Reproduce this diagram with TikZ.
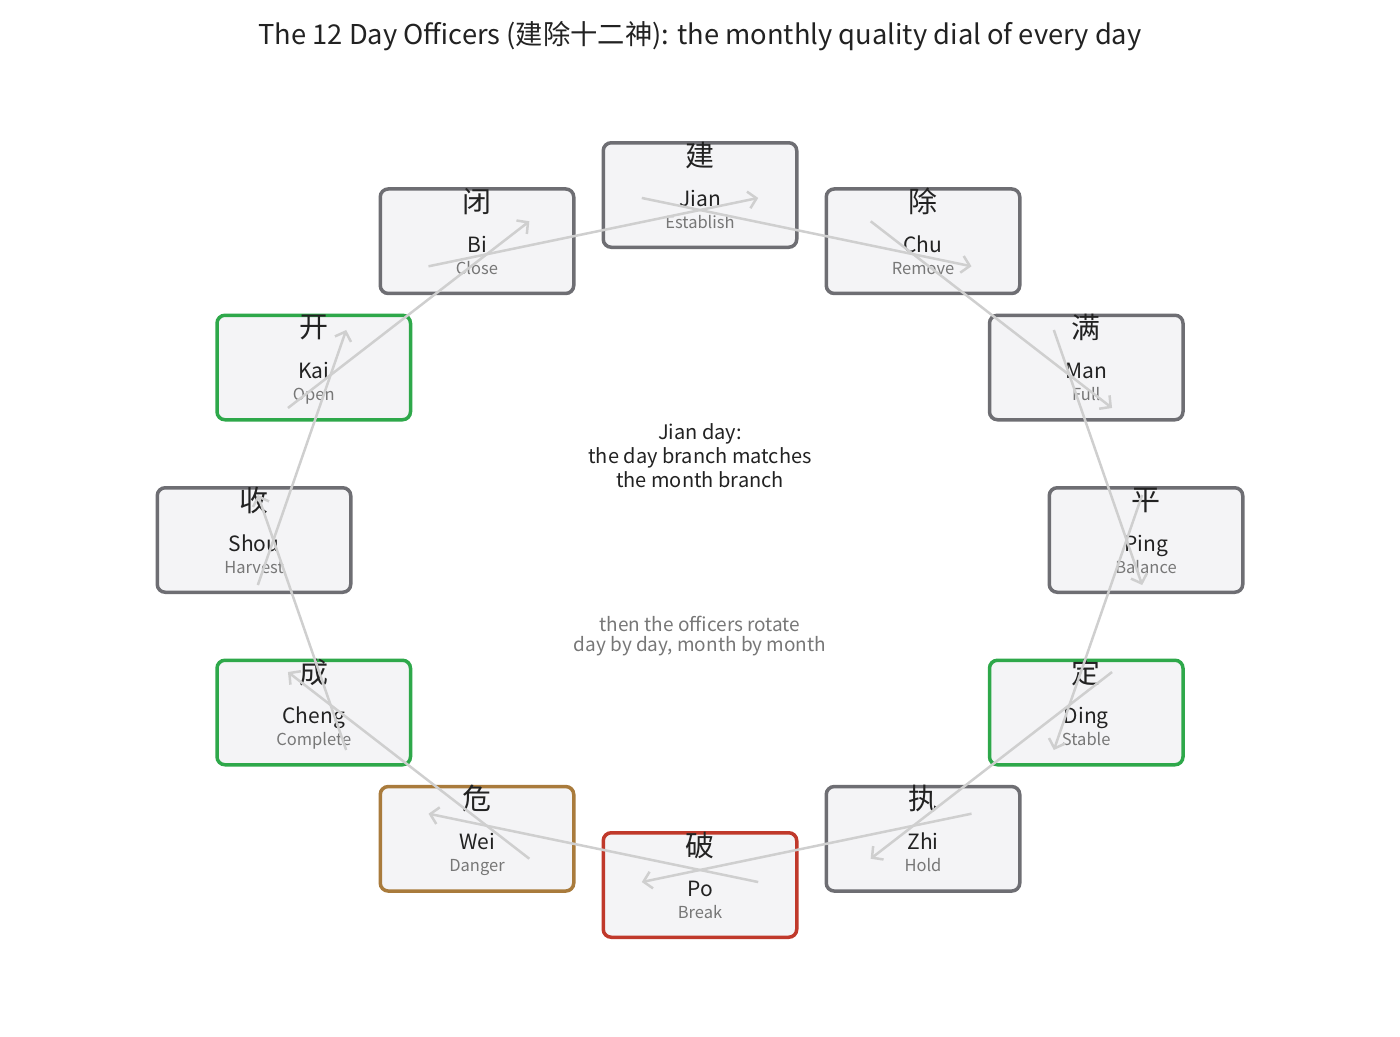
\documentclass[tikz,border=0pt]{standalone}
\usepackage{fontspec}
\setmainfont{Noto Sans CJK SC}
\usetikzlibrary{positioning}
\usetikzlibrary{arrows.meta}
\usetikzlibrary{calc}
\definecolor{boxfill}{HTML}{F4F4F6}
\definecolor{boxgray}{HTML}{6E6E73}
\definecolor{goodgreen}{HTML}{2EA84A}
\definecolor{riskbrown}{HTML}{A97B3C}
\definecolor{badred}{HTML}{C0392B}
\definecolor{flowgray}{HTML}{CFCFCF}
\definecolor{inkdark}{HTML}{222222}
\definecolor{inkgray}{HTML}{777777}

\begin{document}
\begin{tikzpicture}[x=1pt, y=-1pt,
  officer/.style={draw=boxgray, fill=boxfill, line width=3.5pt, rounded corners=8pt,
    minimum width=193.5pt, minimum height=104.5pt, inner sep=0pt},
  zi/.style={font=\fontsize{29}{29}\selectfont, text=inkdark, inner sep=0pt},
  pin/.style={font=\fontsize{21}{21}\selectfont, text=inkdark, inner sep=0pt, anchor=base},
  gloss/.style={font=\fontsize{16.5}{16.5}\selectfont, text=inkgray, inner sep=0pt, anchor=base},
  flow/.style={draw=flowgray, line width=2.5pt, -{Straight Barb[length=8pt,width=17pt]}}]
\useasboundingbox (0,0) rectangle (1400,1036);
\coordinate (hub) at (700,540);

\node[font=\fontsize{27.3}{27.3}\selectfont, text=inkdark] (title) at (700,36)
  {The 12 Day Officers (建除十二神): the monthly quality dial of every day};

% the twelve officers
\node[officer] (jian) at ($(hub)+(-90:446 and 345)$) {};
\node[zi] (jian-zi) at ([yshift=40pt]jian.center) {建};
\node[pin] (jian-pin) at ([yshift=-11pt]jian.center) {Jian};
\node[gloss] (jian-en) at ([yshift=-33pt]jian.center) {Establish};

\node[officer] (chu) at ($(hub)+(-60:446 and 345)$) {};
\node[zi] (chu-zi) at ([yshift=40pt]chu.center) {除};
\node[pin] (chu-pin) at ([yshift=-11pt]chu.center) {Chu};
\node[gloss] (chu-en) at ([yshift=-33pt]chu.center) {Remove};

\node[officer] (man) at ($(hub)+(-30:446 and 345)$) {};
\node[zi] (man-zi) at ([yshift=40pt]man.center) {满};
\node[pin] (man-pin) at ([yshift=-11pt]man.center) {Man};
\node[gloss] (man-en) at ([yshift=-33pt]man.center) {Full};

\node[officer] (ping) at ($(hub)+(0:446 and 345)$) {};
\node[zi] (ping-zi) at ([yshift=40pt]ping.center) {平};
\node[pin] (ping-pin) at ([yshift=-11pt]ping.center) {Ping};
\node[gloss] (ping-en) at ([yshift=-33pt]ping.center) {Balance};

\node[officer, draw=goodgreen] (ding) at ($(hub)+(30:446 and 345)$) {};
\node[zi] (ding-zi) at ([yshift=40pt]ding.center) {定};
\node[pin] (ding-pin) at ([yshift=-11pt]ding.center) {Ding};
\node[gloss] (ding-en) at ([yshift=-33pt]ding.center) {Stable};

\node[officer] (zhi) at ($(hub)+(60:446 and 345)$) {};
\node[zi] (zhi-zi) at ([yshift=40pt]zhi.center) {执};
\node[pin] (zhi-pin) at ([yshift=-11pt]zhi.center) {Zhi};
\node[gloss] (zhi-en) at ([yshift=-33pt]zhi.center) {Hold};

\node[officer, draw=badred] (po) at ($(hub)+(90:446 and 345)$) {};
\node[zi] (po-zi) at ([yshift=40pt]po.center) {破};
\node[pin] (po-pin) at ([yshift=-11pt]po.center) {Po};
\node[gloss] (po-en) at ([yshift=-33pt]po.center) {Break};

\node[officer, draw=riskbrown] (wei) at ($(hub)+(120:446 and 345)$) {};
\node[zi] (wei-zi) at ([yshift=40pt]wei.center) {危};
\node[pin] (wei-pin) at ([yshift=-11pt]wei.center) {Wei};
\node[gloss] (wei-en) at ([yshift=-33pt]wei.center) {Danger};

\node[officer, draw=goodgreen] (cheng) at ($(hub)+(150:446 and 345)$) {};
\node[zi] (cheng-zi) at ([yshift=40pt]cheng.center) {成};
\node[pin] (cheng-pin) at ([yshift=-11pt]cheng.center) {Cheng};
\node[gloss] (cheng-en) at ([yshift=-33pt]cheng.center) {Complete};

\node[officer] (shou) at ($(hub)+(180:446 and 345)$) {};
\node[zi] (shou-zi) at ([yshift=40pt]shou.center) {收};
\node[pin] (shou-pin) at ([yshift=-11pt]shou.center) {Shou};
\node[gloss] (shou-en) at ([yshift=-33pt]shou.center) {Harvest};

\node[officer, draw=goodgreen] (kai) at ($(hub)+(210:446 and 345)$) {};
\node[zi] (kai-zi) at ([yshift=40pt]kai.center) {开};
\node[pin] (kai-pin) at ([yshift=-11pt]kai.center) {Kai};
\node[gloss] (kai-en) at ([yshift=-33pt]kai.center) {Open};

\node[officer] (bi) at ($(hub)+(240:446 and 345)$) {};
\node[zi] (bi-zi) at ([yshift=40pt]bi.center) {闭};
\node[pin] (bi-pin) at ([yshift=-11pt]bi.center) {Bi};
\node[gloss] (bi-en) at ([yshift=-33pt]bi.center) {Close};

% where each step leaves and lands
\coordinate (jian-out) at ($(hub)+(-97.5:446 and 345)$);
\coordinate (chu-out) at ($(hub)+(-67.5:446 and 345)$);
\coordinate (man-out) at ($(hub)+(-37.5:446 and 345)$);
\coordinate (ping-out) at ($(hub)+(-7.5:446 and 345)$);
\coordinate (ding-out) at ($(hub)+(22.5:446 and 345)$);
\coordinate (zhi-out) at ($(hub)+(52.5:446 and 345)$);
\coordinate (po-out) at ($(hub)+(82.5:446 and 345)$);
\coordinate (wei-out) at ($(hub)+(112.5:446 and 345)$);
\coordinate (cheng-out) at ($(hub)+(142.5:446 and 345)$);
\coordinate (shou-out) at ($(hub)+(172.5:446 and 345)$);
\coordinate (kai-out) at ($(hub)+(202.5:446 and 345)$);
\coordinate (bi-out) at ($(hub)+(232.5:446 and 345)$);

\coordinate (jian-in) at ($(hub)+(-82.5:446 and 345)$);
\coordinate (chu-in) at ($(hub)+(-52.5:446 and 345)$);
\coordinate (man-in) at ($(hub)+(-22.5:446 and 345)$);
\coordinate (ping-in) at ($(hub)+(7.5:446 and 345)$);
\coordinate (ding-in) at ($(hub)+(37.5:446 and 345)$);
\coordinate (zhi-in) at ($(hub)+(67.5:446 and 345)$);
\coordinate (po-in) at ($(hub)+(97.5:446 and 345)$);
\coordinate (wei-in) at ($(hub)+(127.5:446 and 345)$);
\coordinate (cheng-in) at ($(hub)+(157.5:446 and 345)$);
\coordinate (shou-in) at ($(hub)+(187.5:446 and 345)$);
\coordinate (kai-in) at ($(hub)+(217.5:446 and 345)$);
\coordinate (bi-in) at ($(hub)+(247.5:446 and 345)$);

\draw[flow] (jian-out) -- (chu-in);
\draw[flow] (chu-out) -- (man-in);
\draw[flow] (man-out) -- (ping-in);
\draw[flow] (ping-out) -- (ding-in);
\draw[flow] (ding-out) -- (zhi-in);
\draw[flow] (zhi-out) -- (po-in);
\draw[flow] (po-out) -- (wei-in);
\draw[flow] (wei-out) -- (cheng-in);
\draw[flow] (cheng-out) -- (shou-in);
\draw[flow] (shou-out) -- (kai-in);
\draw[flow] (kai-out) -- (bi-in);
\draw[flow] (bi-out) -- (jian-in);

% notes in the middle
\node[align=center, text=inkdark, font=\fontsize{20}{24}\selectfont] (rule) at (700,456)
  {Jian day:\\the day branch matches\\the month branch};
\node[align=center, text=inkgray, font=\fontsize{19}{20}\selectfont] (spin) at (700,636)
  {then the officers rotate\\day by day, month by month};
\end{tikzpicture}
\end{document}
